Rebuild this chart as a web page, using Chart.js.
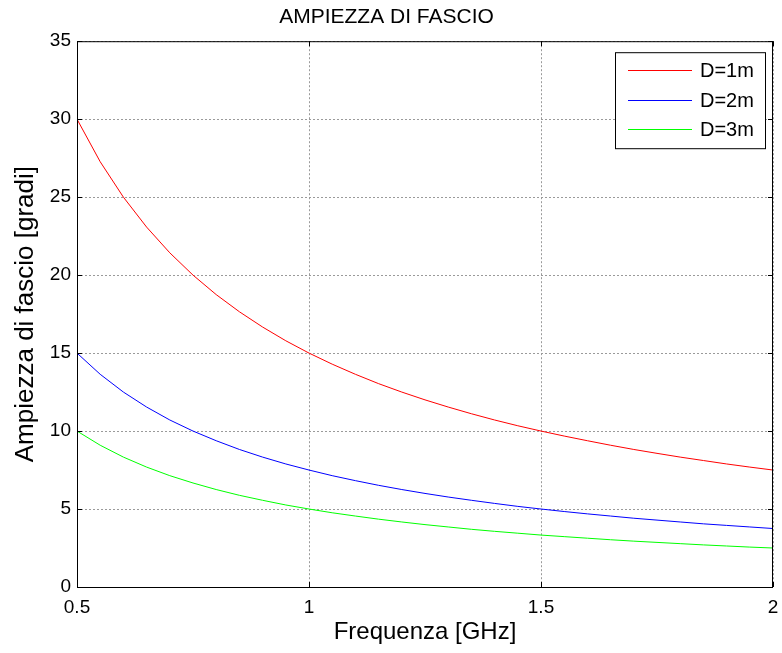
<!DOCTYPE html>
<html>
<head>
<meta charset="utf-8">
<script src="https://cdn.jsdelivr.net/npm/chart.js@4"></script>
<style>
  html, body { margin: 0; padding: 0; background: #fff; }
  #wrap { width: 782px; height: 653px; }
</style>
</head>
<body>
<div id="wrap"><canvas id="chart" width="782" height="653"></canvas></div>
<script>
// Frequencies (GHz)
const freq = [0.5, 0.55, 0.6, 0.65, 0.7, 0.75, 0.8, 0.85, 0.9, 0.95, 1.0,
    1.05, 1.1, 1.15, 1.2, 1.25, 1.3, 1.35, 1.4, 1.45, 1.5,
    1.55, 1.6, 1.65, 1.7, 1.75, 1.8, 1.85, 1.9, 1.95, 2.0];

// Beamwidth (degrees)
const d1 = [30.0, 27.27, 25.0, 23.08, 21.43, 20.0, 18.75, 17.65, 16.67, 15.79, 15.0,
    14.29, 13.64, 13.04, 12.5, 12.0, 11.54, 11.11, 10.71, 10.34, 10.0,
    9.68, 9.38, 9.09, 8.82, 8.57, 8.33, 8.11, 7.89, 7.69, 7.5];
const d2 = [15.0, 13.64, 12.5, 11.54, 10.71, 10.0, 9.38, 8.82, 8.33, 7.89, 7.5,
    7.14, 6.82, 6.52, 6.25, 6.0, 5.77, 5.56, 5.36, 5.17, 5.0,
    4.84, 4.69, 4.55, 4.41, 4.29, 4.17, 4.05, 3.95, 3.85, 3.75];
const d3 = [10.0, 9.09, 8.33, 7.69, 7.14, 6.67, 6.25, 5.88, 5.56, 5.26, 5.0,
    4.76, 4.55, 4.35, 4.17, 4.0, 3.85, 3.70, 3.57, 3.45, 3.33,
    3.23, 3.13, 3.03, 2.94, 2.86, 2.78, 2.70, 2.63, 2.56, 2.5];

const seriesLabels = ['D=1m', 'D=2m', 'D=3m'];
const seriesColors = ['#ff0000', '#0000ff', '#00ff00'];

const FONT = '"Liberation Sans", Arial, sans-serif';

function toPoints(ys) {
    return freq.map((f, i) => ({ x: f, y: ys[i] }));
}

// Box around the plot area with inward tick marks (MATLAB look)
const boxPlugin = {
    id: 'box',
    afterDatasetsDraw(chart) {
        const { ctx, chartArea: a, scales } = chart;
        ctx.save();
        ctx.strokeStyle = '#000';
        ctx.lineWidth = 1;
        ctx.strokeRect(a.left + 0.5, a.top + 0.5, a.right - a.left - 1, a.bottom - a.top);
        const len = 5;
        ctx.beginPath();
        scales.x.ticks.forEach(t => {
            const px = Math.round(scales.x.getPixelForValue(t.value)) + 0.5;
            ctx.moveTo(px, a.bottom); ctx.lineTo(px, a.bottom - len);
            ctx.moveTo(px, a.top); ctx.lineTo(px, a.top + len);
        });
        scales.y.ticks.forEach(t => {
            const py = Math.round(scales.y.getPixelForValue(t.value)) + 0.5;
            ctx.moveTo(a.left, py); ctx.lineTo(a.left + len, py);
            ctx.moveTo(a.right, py); ctx.lineTo(a.right - len, py);
        });
        ctx.stroke();
        ctx.restore();
    }
};

// Legend box in the upper right corner
const legendPlugin = {
    id: 'boxLegend',
    afterDraw(chart) {
        const { ctx, chartArea: a } = chart;
        const w = 150, h = 96;
        const x0 = a.right - 8 - w, y0 = a.top + 11;
        ctx.save();
        ctx.fillStyle = '#fff';
        ctx.fillRect(x0, y0, w, h);
        ctx.strokeStyle = '#000';
        ctx.lineWidth = 1;
        ctx.strokeRect(x0 + 0.5, y0 + 0.5, w, h);
        ctx.font = '20px ' + FONT;
        ctx.textBaseline = 'middle';
        ctx.fillStyle = '#000';
        chart.data.datasets.forEach((ds, i) => {
            const y = Math.round(y0 + 18 + i * 29.5) + 0.5;
            ctx.strokeStyle = ds.borderColor;
            ctx.beginPath();
            ctx.moveTo(x0 + 13, y);
            ctx.lineTo(x0 + 77, y);
            ctx.stroke();
            ctx.fillText(ds.label, x0 + 85, y + 1);
        });
        ctx.restore();
    }
};

const ctx = document.getElementById('chart').getContext('2d');
new Chart(ctx, {
    type: 'line',
    data: {
        datasets: [d1, d2, d3].map((ys, i) => ({
            label: seriesLabels[i],
            data: toPoints(ys),
            borderColor: seriesColors[i],
            borderWidth: 1,
            pointRadius: 0,
            tension: 0,
            fill: false
        }))
    },
    options: {
        responsive: false,
        animation: false,
        layout: { padding: { top: 0, right: 9, bottom: 0, left: 0 } },
        plugins: {
            legend: { display: false },
            tooltip: { enabled: false },
            title: {
                display: true,
                text: 'AMPIEZZA DI FASCIO',
                color: '#000',
                font: { family: FONT, size: 21, weight: 'normal' },
                padding: { top: 5, bottom: 11 }
            }
        },
        scales: {
            x: {
                type: 'linear',
                min: 0.5,
                max: 2,
                ticks: {
                    stepSize: 0.5,
                    color: '#000',
                    padding: 9,
                    font: { family: FONT, size: 19 },
                    callback: v => String(v)
                },
                grid: { color: '#9a9a9a', drawTicks: false, tickLength: 0 },
                border: { display: false, dash: [2, 2] },
                title: {
                    display: true,
                    text: 'Frequenza [GHz]',
                    color: '#000',
                    font: { family: FONT, size: 24 },
                    padding: { top: 0, bottom: 6 }
                },
                afterFit(scale) {
                    scale.height = 66;
                    scale.paddingLeft = 0;
                    scale.paddingRight = 0;
                }
            },
            y: {
                min: 0,
                max: 35,
                ticks: {
                    stepSize: 5,
                    color: '#000',
                    padding: 6,
                    font: { family: FONT, size: 19 }
                },
                grid: { color: '#9a9a9a', drawTicks: false, tickLength: 0 },
                border: { display: false, dash: [2, 2] },
                title: {
                    display: true,
                    text: 'Ampiezza di fascio [gradi]',
                    color: '#000',
                    font: { family: FONT, size: 26 },
                    padding: { top: 10, bottom: 0 }
                },
                afterFit(scale) {
                    scale.width = 77;
                    scale.paddingTop = 0;
                    scale.paddingBottom = 0;
                }
            }
        }
    },
    plugins: [boxPlugin, legendPlugin]
});
</script>
</body>
</html>
